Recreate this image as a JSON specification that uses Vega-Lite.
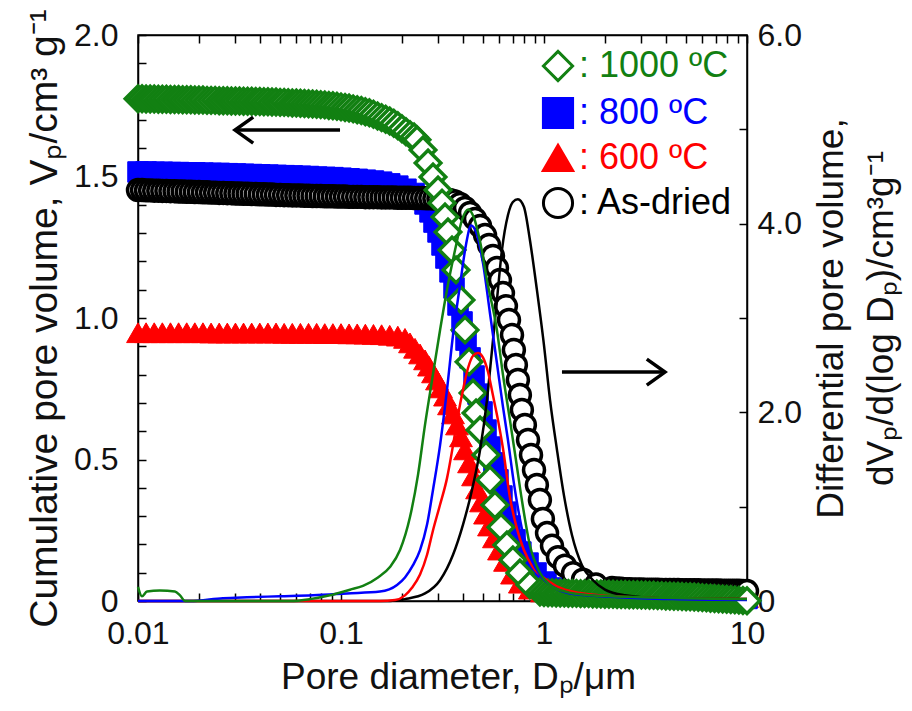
{
"$schema":"https://vega.github.io/schema/vega-lite/v6.json",
"width":609,"height":566,
"autosize":{"type":"none"},
"padding":{"left":138,"top":35,"right":165,"bottom":110},
"background":"white",
"config":{
"view":{"stroke":"black","strokeWidth":1.5},
"font":"Liberation Sans",
"axis":{"domainColor":"black","domainWidth":1.5,"tickColor":"black","tickWidth":1.5,"tickSize":-8,"labelFont":"Liberation Sans","labelFontSize":32,"labelColor":"#111111","titleFont":"Liberation Sans","titleFontSize":37,"titleFontWeight":"normal","titleColor":"#111111","grid":false,"labelOverlap":false,"labelFlush":false,"labelBound":false}
},
"datasets":{
"cum":[
{"s":"a600","d":0.01,"v":0.948},{"s":"a600","d":0.01096,"v":0.948},{"s":"a600","d":0.01202,"v":0.948},{"s":"a600","d":0.01318,"v":0.948},{"s":"a600","d":0.01445,"v":0.948},{"s":"a600","d":0.01585,"v":0.948},{"s":"a600","d":0.01738,"v":0.948},{"s":"a600","d":0.01905,"v":0.948},{"s":"a600","d":0.02089,"v":0.948},{"s":"a600","d":0.02291,"v":0.947},{"s":"a600","d":0.02512,"v":0.947},{"s":"a600","d":0.02754,"v":0.947},{"s":"a600","d":0.0302,"v":0.947},{"s":"a600","d":0.03311,"v":0.947},{"s":"a600","d":0.03631,"v":0.947},{"s":"a600","d":0.03981,"v":0.947},{"s":"a600","d":0.04365,"v":0.947},{"s":"a600","d":0.04786,"v":0.947},{"s":"a600","d":0.05248,"v":0.946},{"s":"a600","d":0.05754,"v":0.946},{"s":"a600","d":0.0631,"v":0.946},{"s":"a600","d":0.06918,"v":0.946},{"s":"a600","d":0.07586,"v":0.946},{"s":"a600","d":0.08318,"v":0.945},{"s":"a600","d":0.0912,"v":0.945},{"s":"a600","d":0.1,"v":0.945},{"s":"a600","d":0.1096,"v":0.944},{"s":"a600","d":0.1202,"v":0.944},{"s":"a600","d":0.1318,"v":0.943},{"s":"a600","d":0.1445,"v":0.942},{"s":"a600","d":0.1585,"v":0.941},{"s":"a600","d":0.1738,"v":0.939},{"s":"a600","d":0.1905,"v":0.936},{"s":"a600","d":0.2066,"v":0.928},{"s":"a600","d":0.2187,"v":0.912},{"s":"a600","d":0.2316,"v":0.893},{"s":"a600","d":0.2451,"v":0.873},{"s":"a600","d":0.2594,"v":0.852},{"s":"a600","d":0.2714,"v":0.83},{"s":"a600","d":0.284,"v":0.806},{"s":"a600","d":0.2971,"v":0.781},{"s":"a600","d":0.3109,"v":0.753},{"s":"a600","d":0.3254,"v":0.724},{"s":"a600","d":0.3404,"v":0.693},{"s":"a600","d":0.3563,"v":0.661},{"s":"a600","d":0.3727,"v":0.622},{"s":"a600","d":0.39,"v":0.58},{"s":"a600","d":0.4083,"v":0.534},{"s":"a600","d":0.4272,"v":0.488},{"s":"a600","d":0.4472,"v":0.442},{"s":"a600","d":0.468,"v":0.396},{"s":"a600","d":0.4896,"v":0.35},{"s":"a600","d":0.5122,"v":0.307},{"s":"a600","d":0.5358,"v":0.265},{"s":"a600","d":0.5668,"v":0.223},{"s":"a600","d":0.6002,"v":0.18},{"s":"a600","d":0.6425,"v":0.14},{"s":"a600","d":0.6956,"v":0.095},{"s":"a600","d":0.7606,"v":0.063},{"s":"a600","d":0.852,"v":0.042},{"s":"a600","d":0.9774,"v":0.032},{"s":"a600","d":1.096,"v":0.031},{"s":"a600","d":1.202,"v":0.031},{"s":"a600","d":1.318,"v":0.03},{"s":"a600","d":1.445,"v":0.03},{"s":"a600","d":1.585,"v":0.029},{"s":"a600","d":1.738,"v":0.029},{"s":"a600","d":1.905,"v":0.028},{"s":"a600","d":2.089,"v":0.028},{"s":"a600","d":2.291,"v":0.027},{"s":"a600","d":2.512,"v":0.027},{"s":"a600","d":2.754,"v":0.026},{"s":"a600","d":3.02,"v":0.026},{"s":"a600","d":3.311,"v":0.025},{"s":"a600","d":3.631,"v":0.025},{"s":"a600","d":3.981,"v":0.024},{"s":"a600","d":4.365,"v":0.023},{"s":"a600","d":4.786,"v":0.022},{"s":"a600","d":5.248,"v":0.021},{"s":"a600","d":5.754,"v":0.02},{"s":"a600","d":6.31,"v":0.019},{"s":"a600","d":6.918,"v":0.018},{"s":"a600","d":7.586,"v":0.016},{"s":"a600","d":8.318,"v":0.015},{"s":"a600","d":9.12,"v":0.013},{"s":"a600","d":10,"v":0.012},
{"s":"b800","d":0.01,"v":1.516},{"s":"b800","d":0.01096,"v":1.516},{"s":"b800","d":0.01202,"v":1.515},{"s":"b800","d":0.01318,"v":1.515},{"s":"b800","d":0.01445,"v":1.514},{"s":"b800","d":0.01585,"v":1.514},{"s":"b800","d":0.01738,"v":1.513},{"s":"b800","d":0.01905,"v":1.513},{"s":"b800","d":0.02089,"v":1.512},{"s":"b800","d":0.02291,"v":1.511},{"s":"b800","d":0.02512,"v":1.511},{"s":"b800","d":0.02754,"v":1.51},{"s":"b800","d":0.0302,"v":1.509},{"s":"b800","d":0.03311,"v":1.508},{"s":"b800","d":0.03631,"v":1.507},{"s":"b800","d":0.03981,"v":1.506},{"s":"b800","d":0.04365,"v":1.505},{"s":"b800","d":0.04786,"v":1.504},{"s":"b800","d":0.05248,"v":1.503},{"s":"b800","d":0.05754,"v":1.502},{"s":"b800","d":0.0631,"v":1.501},{"s":"b800","d":0.06918,"v":1.5},{"s":"b800","d":0.07586,"v":1.498},{"s":"b800","d":0.08318,"v":1.497},{"s":"b800","d":0.0912,"v":1.496},{"s":"b800","d":0.1,"v":1.494},{"s":"b800","d":0.1096,"v":1.492},{"s":"b800","d":0.1202,"v":1.49},{"s":"b800","d":0.1318,"v":1.487},{"s":"b800","d":0.1445,"v":1.484},{"s":"b800","d":0.1585,"v":1.48},{"s":"b800","d":0.1738,"v":1.474},{"s":"b800","d":0.1905,"v":1.466},{"s":"b800","d":0.2089,"v":1.455},{"s":"b800","d":0.2291,"v":1.44},{"s":"b800","d":0.2451,"v":1.428},{"s":"b800","d":0.2594,"v":1.403},{"s":"b800","d":0.2745,"v":1.375},{"s":"b800","d":0.2872,"v":1.339},{"s":"b800","d":0.3006,"v":1.304},{"s":"b800","d":0.3145,"v":1.258},{"s":"b800","d":0.3289,"v":1.212},{"s":"b800","d":0.3443,"v":1.163},{"s":"b800","d":0.3604,"v":1.106},{"s":"b800","d":0.3771,"v":1.046},{"s":"b800","d":0.3946,"v":0.986},{"s":"b800","d":0.413,"v":0.922},{"s":"b800","d":0.4322,"v":0.859},{"s":"b800","d":0.4523,"v":0.795},{"s":"b800","d":0.4733,"v":0.731},{"s":"b800","d":0.4951,"v":0.668},{"s":"b800","d":0.518,"v":0.604},{"s":"b800","d":0.5418,"v":0.544},{"s":"b800","d":0.5668,"v":0.488},{"s":"b800","d":0.5931,"v":0.428},{"s":"b800","d":0.6206,"v":0.371},{"s":"b800","d":0.6492,"v":0.314},{"s":"b800","d":0.6793,"v":0.265},{"s":"b800","d":0.7197,"v":0.216},{"s":"b800","d":0.7693,"v":0.173},{"s":"b800","d":0.8343,"v":0.134},{"s":"b800","d":0.9133,"v":0.099},{"s":"b800","d":1.023,"v":0.067},{"s":"b800","d":1.172,"v":0.046},{"s":"b800","d":1.373,"v":0.032},{"s":"b800","d":1.514,"v":0.031},{"s":"b800","d":1.66,"v":0.03},{"s":"b800","d":1.82,"v":0.029},{"s":"b800","d":1.995,"v":0.029},{"s":"b800","d":2.188,"v":0.028},{"s":"b800","d":2.399,"v":0.027},{"s":"b800","d":2.63,"v":0.027},{"s":"b800","d":2.884,"v":0.026},{"s":"b800","d":3.162,"v":0.025},{"s":"b800","d":3.467,"v":0.025},{"s":"b800","d":3.802,"v":0.024},{"s":"b800","d":4.169,"v":0.023},{"s":"b800","d":4.571,"v":0.022},{"s":"b800","d":5.012,"v":0.021},{"s":"b800","d":5.495,"v":0.02},{"s":"b800","d":6.026,"v":0.019},{"s":"b800","d":6.607,"v":0.018},{"s":"b800","d":7.244,"v":0.016},{"s":"b800","d":7.943,"v":0.014},{"s":"b800","d":8.71,"v":0.012},{"s":"b800","d":9.55,"v":0.01},{"s":"b800","d":10,"v":0.009},
{"s":"cdry","d":0.01,"v":1.452},{"s":"cdry","d":0.01047,"v":1.452},{"s":"cdry","d":0.01096,"v":1.451},{"s":"cdry","d":0.01148,"v":1.451},{"s":"cdry","d":0.01202,"v":1.45},{"s":"cdry","d":0.01259,"v":1.45},{"s":"cdry","d":0.01318,"v":1.449},{"s":"cdry","d":0.0138,"v":1.449},{"s":"cdry","d":0.01445,"v":1.448},{"s":"cdry","d":0.01514,"v":1.448},{"s":"cdry","d":0.01585,"v":1.447},{"s":"cdry","d":0.0166,"v":1.447},{"s":"cdry","d":0.01738,"v":1.446},{"s":"cdry","d":0.0182,"v":1.446},{"s":"cdry","d":0.01905,"v":1.445},{"s":"cdry","d":0.01995,"v":1.445},{"s":"cdry","d":0.02089,"v":1.444},{"s":"cdry","d":0.02188,"v":1.444},{"s":"cdry","d":0.02291,"v":1.443},{"s":"cdry","d":0.02399,"v":1.443},{"s":"cdry","d":0.02512,"v":1.442},{"s":"cdry","d":0.0263,"v":1.442},{"s":"cdry","d":0.02754,"v":1.441},{"s":"cdry","d":0.02884,"v":1.441},{"s":"cdry","d":0.0302,"v":1.44},{"s":"cdry","d":0.03162,"v":1.44},{"s":"cdry","d":0.03311,"v":1.439},{"s":"cdry","d":0.03467,"v":1.439},{"s":"cdry","d":0.03631,"v":1.438},{"s":"cdry","d":0.03802,"v":1.438},{"s":"cdry","d":0.03981,"v":1.437},{"s":"cdry","d":0.04169,"v":1.437},{"s":"cdry","d":0.04365,"v":1.436},{"s":"cdry","d":0.04571,"v":1.436},{"s":"cdry","d":0.04786,"v":1.435},{"s":"cdry","d":0.05012,"v":1.435},{"s":"cdry","d":0.05248,"v":1.434},{"s":"cdry","d":0.05495,"v":1.434},{"s":"cdry","d":0.05754,"v":1.433},{"s":"cdry","d":0.06026,"v":1.433},{"s":"cdry","d":0.0631,"v":1.433},{"s":"cdry","d":0.06607,"v":1.432},{"s":"cdry","d":0.06918,"v":1.432},{"s":"cdry","d":0.07244,"v":1.431},{"s":"cdry","d":0.07586,"v":1.431},{"s":"cdry","d":0.07943,"v":1.431},{"s":"cdry","d":0.08318,"v":1.43},{"s":"cdry","d":0.0871,"v":1.43},{"s":"cdry","d":0.0912,"v":1.43},{"s":"cdry","d":0.0955,"v":1.429},{"s":"cdry","d":0.1,"v":1.429},{"s":"cdry","d":0.1047,"v":1.429},{"s":"cdry","d":0.1096,"v":1.428},{"s":"cdry","d":0.1148,"v":1.428},{"s":"cdry","d":0.1202,"v":1.428},{"s":"cdry","d":0.1259,"v":1.428},{"s":"cdry","d":0.1318,"v":1.427},{"s":"cdry","d":0.138,"v":1.427},{"s":"cdry","d":0.1445,"v":1.427},{"s":"cdry","d":0.1514,"v":1.427},{"s":"cdry","d":0.1585,"v":1.426},{"s":"cdry","d":0.166,"v":1.426},{"s":"cdry","d":0.1738,"v":1.426},{"s":"cdry","d":0.182,"v":1.426},{"s":"cdry","d":0.1905,"v":1.425},{"s":"cdry","d":0.1995,"v":1.425},{"s":"cdry","d":0.2089,"v":1.425},{"s":"cdry","d":0.2188,"v":1.425},{"s":"cdry","d":0.2291,"v":1.424},{"s":"cdry","d":0.2399,"v":1.424},{"s":"cdry","d":0.2512,"v":1.424},{"s":"cdry","d":0.263,"v":1.423},{"s":"cdry","d":0.2754,"v":1.423},{"s":"cdry","d":0.2884,"v":1.422},{"s":"cdry","d":0.302,"v":1.422},{"s":"cdry","d":0.3162,"v":1.421},{"s":"cdry","d":0.3311,"v":1.419},{"s":"cdry","d":0.3467,"v":1.416},{"s":"cdry","d":0.3646,"v":1.412},{"s":"cdry","d":0.3858,"v":1.403},{"s":"cdry","d":0.4083,"v":1.389},{"s":"cdry","d":0.4322,"v":1.371},{"s":"cdry","d":0.4572,"v":1.35},{"s":"cdry","d":0.4842,"v":1.325},{"s":"cdry","d":0.5123,"v":1.293},{"s":"cdry","d":0.536,"v":1.258},{"s":"cdry","d":0.5604,"v":1.219},{"s":"cdry","d":0.5864,"v":1.177},{"s":"cdry","d":0.6067,"v":1.134},{"s":"cdry","d":0.6277,"v":1.088},{"s":"cdry","d":0.6492,"v":1.042},{"s":"cdry","d":0.6723,"v":0.993},{"s":"cdry","d":0.6956,"v":0.94},{"s":"cdry","d":0.7106,"v":0.887},{"s":"cdry","d":0.7269,"v":0.834},{"s":"cdry","d":0.7436,"v":0.781},{"s":"cdry","d":0.7606,"v":0.728},{"s":"cdry","d":0.7781,"v":0.675},{"s":"cdry","d":0.8051,"v":0.622},{"s":"cdry","d":0.8343,"v":0.569},{"s":"cdry","d":0.863,"v":0.516},{"s":"cdry","d":0.8929,"v":0.463},{"s":"cdry","d":0.9224,"v":0.41},{"s":"cdry","d":0.9545,"v":0.357},{"s":"cdry","d":0.9877,"v":0.29},{"s":"cdry","d":1.035,"v":0.24},{"s":"cdry","d":1.095,"v":0.195},{"s":"cdry","d":1.172,"v":0.155},{"s":"cdry","d":1.268,"v":0.125},{"s":"cdry","d":1.39,"v":0.098},{"s":"cdry","d":1.556,"v":0.075},{"s":"cdry","d":1.804,"v":0.058},{"s":"cdry","d":2.163,"v":0.046},{"s":"cdry","d":2.291,"v":0.044},{"s":"cdry","d":2.399,"v":0.043},{"s":"cdry","d":2.512,"v":0.042},{"s":"cdry","d":2.63,"v":0.042},{"s":"cdry","d":2.754,"v":0.041},{"s":"cdry","d":2.884,"v":0.041},{"s":"cdry","d":3.02,"v":0.041},{"s":"cdry","d":3.162,"v":0.04},{"s":"cdry","d":3.311,"v":0.04},{"s":"cdry","d":3.467,"v":0.04},{"s":"cdry","d":3.631,"v":0.04},{"s":"cdry","d":3.802,"v":0.039},{"s":"cdry","d":3.981,"v":0.039},{"s":"cdry","d":4.169,"v":0.039},{"s":"cdry","d":4.365,"v":0.039},{"s":"cdry","d":4.571,"v":0.039},{"s":"cdry","d":4.786,"v":0.038},{"s":"cdry","d":5.012,"v":0.038},{"s":"cdry","d":5.248,"v":0.038},{"s":"cdry","d":5.495,"v":0.038},{"s":"cdry","d":5.754,"v":0.038},{"s":"cdry","d":6.026,"v":0.037},{"s":"cdry","d":6.31,"v":0.037},{"s":"cdry","d":6.607,"v":0.037},{"s":"cdry","d":6.918,"v":0.037},{"s":"cdry","d":7.244,"v":0.037},{"s":"cdry","d":7.586,"v":0.036},{"s":"cdry","d":7.943,"v":0.036},{"s":"cdry","d":8.318,"v":0.036},{"s":"cdry","d":8.71,"v":0.036},{"s":"cdry","d":9.12,"v":0.036},{"s":"cdry","d":9.55,"v":0.035},{"s":"cdry","d":10,"v":0.035},
{"s":"d1000","d":0.01,"v":1.775},{"s":"d1000","d":0.01047,"v":1.775},{"s":"d1000","d":0.01096,"v":1.774},{"s":"d1000","d":0.01148,"v":1.774},{"s":"d1000","d":0.01202,"v":1.774},{"s":"d1000","d":0.01259,"v":1.773},{"s":"d1000","d":0.01318,"v":1.773},{"s":"d1000","d":0.0138,"v":1.773},{"s":"d1000","d":0.01445,"v":1.772},{"s":"d1000","d":0.01514,"v":1.772},{"s":"d1000","d":0.01585,"v":1.772},{"s":"d1000","d":0.0166,"v":1.771},{"s":"d1000","d":0.01738,"v":1.771},{"s":"d1000","d":0.0182,"v":1.771},{"s":"d1000","d":0.01905,"v":1.77},{"s":"d1000","d":0.01995,"v":1.77},{"s":"d1000","d":0.02089,"v":1.77},{"s":"d1000","d":0.02188,"v":1.769},{"s":"d1000","d":0.02291,"v":1.769},{"s":"d1000","d":0.02399,"v":1.769},{"s":"d1000","d":0.02512,"v":1.768},{"s":"d1000","d":0.0263,"v":1.768},{"s":"d1000","d":0.02754,"v":1.768},{"s":"d1000","d":0.02884,"v":1.767},{"s":"d1000","d":0.0302,"v":1.767},{"s":"d1000","d":0.03162,"v":1.767},{"s":"d1000","d":0.03311,"v":1.766},{"s":"d1000","d":0.03467,"v":1.766},{"s":"d1000","d":0.03631,"v":1.766},{"s":"d1000","d":0.03802,"v":1.765},{"s":"d1000","d":0.03981,"v":1.765},{"s":"d1000","d":0.04169,"v":1.764},{"s":"d1000","d":0.04365,"v":1.764},{"s":"d1000","d":0.04571,"v":1.763},{"s":"d1000","d":0.04786,"v":1.763},{"s":"d1000","d":0.05012,"v":1.762},{"s":"d1000","d":0.05248,"v":1.762},{"s":"d1000","d":0.05495,"v":1.761},{"s":"d1000","d":0.05754,"v":1.76},{"s":"d1000","d":0.06026,"v":1.76},{"s":"d1000","d":0.0631,"v":1.759},{"s":"d1000","d":0.06607,"v":1.758},{"s":"d1000","d":0.06918,"v":1.757},{"s":"d1000","d":0.07244,"v":1.756},{"s":"d1000","d":0.07586,"v":1.755},{"s":"d1000","d":0.07943,"v":1.754},{"s":"d1000","d":0.08318,"v":1.753},{"s":"d1000","d":0.0871,"v":1.751},{"s":"d1000","d":0.0912,"v":1.75},{"s":"d1000","d":0.0955,"v":1.748},{"s":"d1000","d":0.1,"v":1.746},{"s":"d1000","d":0.1047,"v":1.744},{"s":"d1000","d":0.1096,"v":1.742},{"s":"d1000","d":0.1148,"v":1.739},{"s":"d1000","d":0.1202,"v":1.736},{"s":"d1000","d":0.1259,"v":1.733},{"s":"d1000","d":0.1318,"v":1.729},{"s":"d1000","d":0.138,"v":1.725},{"s":"d1000","d":0.1445,"v":1.72},{"s":"d1000","d":0.1514,"v":1.714},{"s":"d1000","d":0.1585,"v":1.708},{"s":"d1000","d":0.166,"v":1.702},{"s":"d1000","d":0.1738,"v":1.696},{"s":"d1000","d":0.182,"v":1.688},{"s":"d1000","d":0.1905,"v":1.679},{"s":"d1000","d":0.1995,"v":1.669},{"s":"d1000","d":0.2089,"v":1.658},{"s":"d1000","d":0.2188,"v":1.648},{"s":"d1000","d":0.2291,"v":1.64},{"s":"d1000","d":0.2368,"v":1.63},{"s":"d1000","d":0.2535,"v":1.594},{"s":"d1000","d":0.2685,"v":1.548},{"s":"d1000","d":0.284,"v":1.498},{"s":"d1000","d":0.3006,"v":1.452},{"s":"d1000","d":0.3145,"v":1.406},{"s":"d1000","d":0.3254,"v":1.357},{"s":"d1000","d":0.3365,"v":1.304},{"s":"d1000","d":0.3523,"v":1.24},{"s":"d1000","d":0.3687,"v":1.17},{"s":"d1000","d":0.3901,"v":1.064},{"s":"d1000","d":0.4083,"v":0.958},{"s":"d1000","d":0.4272,"v":0.845},{"s":"d1000","d":0.4472,"v":0.735},{"s":"d1000","d":0.4627,"v":0.664},{"s":"d1000","d":0.4842,"v":0.604},{"s":"d1000","d":0.518,"v":0.516},{"s":"d1000","d":0.5418,"v":0.428},{"s":"d1000","d":0.5733,"v":0.339},{"s":"d1000","d":0.614,"v":0.261},{"s":"d1000","d":0.6566,"v":0.198},{"s":"d1000","d":0.7026,"v":0.145},{"s":"d1000","d":0.7606,"v":0.099},{"s":"d1000","d":0.852,"v":0.057},{"s":"d1000","d":0.9545,"v":0.032},{"s":"d1000","d":1,"v":0.03},{"s":"d1000","d":1.047,"v":0.029},{"s":"d1000","d":1.096,"v":0.029},{"s":"d1000","d":1.148,"v":0.028},{"s":"d1000","d":1.202,"v":0.028},{"s":"d1000","d":1.259,"v":0.028},{"s":"d1000","d":1.318,"v":0.027},{"s":"d1000","d":1.38,"v":0.027},{"s":"d1000","d":1.445,"v":0.027},{"s":"d1000","d":1.514,"v":0.026},{"s":"d1000","d":1.585,"v":0.026},{"s":"d1000","d":1.66,"v":0.026},{"s":"d1000","d":1.738,"v":0.025},{"s":"d1000","d":1.82,"v":0.025},{"s":"d1000","d":1.905,"v":0.025},{"s":"d1000","d":1.995,"v":0.024},{"s":"d1000","d":2.089,"v":0.024},{"s":"d1000","d":2.188,"v":0.024},{"s":"d1000","d":2.291,"v":0.023},{"s":"d1000","d":2.399,"v":0.023},{"s":"d1000","d":2.512,"v":0.023},{"s":"d1000","d":2.63,"v":0.022},{"s":"d1000","d":2.754,"v":0.022},{"s":"d1000","d":2.884,"v":0.022},{"s":"d1000","d":3.02,"v":0.021},{"s":"d1000","d":3.162,"v":0.021},{"s":"d1000","d":3.311,"v":0.02},{"s":"d1000","d":3.467,"v":0.02},{"s":"d1000","d":3.631,"v":0.019},{"s":"d1000","d":3.802,"v":0.019},{"s":"d1000","d":3.981,"v":0.018},{"s":"d1000","d":4.169,"v":0.018},{"s":"d1000","d":4.365,"v":0.017},{"s":"d1000","d":4.571,"v":0.017},{"s":"d1000","d":4.786,"v":0.016},{"s":"d1000","d":5.012,"v":0.015},{"s":"d1000","d":5.248,"v":0.015},{"s":"d1000","d":5.495,"v":0.014},{"s":"d1000","d":5.754,"v":0.013},{"s":"d1000","d":6.026,"v":0.012},{"s":"d1000","d":6.31,"v":0.011},{"s":"d1000","d":6.607,"v":0.01},{"s":"d1000","d":6.918,"v":0.009},{"s":"d1000","d":7.244,"v":0.008},{"s":"d1000","d":7.586,"v":0.007},{"s":"d1000","d":7.943,"v":0.006},{"s":"d1000","d":8.318,"v":0.005},{"s":"d1000","d":8.71,"v":0.004},{"s":"d1000","d":9.12,"v":0.003},{"s":"d1000","d":9.55,"v":0.002},{"s":"d1000","d":10,"v":0.001}
],
"dif":[
{"s":"cdry","d":0.01,"y":0},{"s":"cdry","d":0.1743,"y":0},{"s":"cdry","d":0.2066,"y":0.02},{"s":"cdry","d":0.2594,"y":0.08},{"s":"cdry","d":0.3075,"y":0.22},{"s":"cdry","d":0.3563,"y":0.49},{"s":"cdry","d":0.3991,"y":0.81},{"s":"cdry","d":0.4421,"y":1.18},{"s":"cdry","d":0.4842,"y":1.6},{"s":"cdry","d":0.5237,"y":2.13},{"s":"cdry","d":0.5544,"y":2.66},{"s":"cdry","d":0.5864,"y":3.19},{"s":"cdry","d":0.6206,"y":3.72},{"s":"cdry","d":0.6641,"y":4.09},{"s":"cdry","d":0.7026,"y":4.23},{"s":"cdry","d":0.7436,"y":4.26},{"s":"cdry","d":0.796,"y":4.18},{"s":"cdry","d":0.852,"y":3.83},{"s":"cdry","d":0.9224,"y":3.3},{"s":"cdry","d":1,"y":2.71},{"s":"cdry","d":1.071,"y":2.13},{"s":"cdry","d":1.159,"y":1.6},{"s":"cdry","d":1.254,"y":1.12},{"s":"cdry","d":1.373,"y":0.7},{"s":"cdry","d":1.538,"y":0.38},{"s":"cdry","d":1.743,"y":0.22},{"s":"cdry","d":1.997,"y":0.12},{"s":"cdry","d":2.506,"y":0.06},{"s":"cdry","d":3.725,"y":0.03},{"s":"cdry","d":10,"y":0.02},
{"s":"a600","d":0.01,"y":0},{"s":"a600","d":0.1556,"y":0},{"s":"a600","d":0.1846,"y":0.01},{"s":"a600","d":0.2066,"y":0.06},{"s":"a600","d":0.2237,"y":0.14},{"s":"a600","d":0.2451,"y":0.28},{"s":"a600","d":0.2654,"y":0.49},{"s":"a600","d":0.284,"y":0.75},{"s":"a600","d":0.3075,"y":1.02},{"s":"a600","d":0.3327,"y":1.3},{"s":"a600","d":0.3563,"y":1.65},{"s":"a600","d":0.3771,"y":1.97},{"s":"a600","d":0.3991,"y":2.24},{"s":"a600","d":0.4225,"y":2.47},{"s":"a600","d":0.4472,"y":2.6},{"s":"a600","d":0.4733,"y":2.63},{"s":"a600","d":0.5008,"y":2.58},{"s":"a600","d":0.5297,"y":2.43},{"s":"a600","d":0.5604,"y":2.18},{"s":"a600","d":0.5931,"y":1.92},{"s":"a600","d":0.6277,"y":1.62},{"s":"a600","d":0.6793,"y":1.1},{"s":"a600","d":0.7352,"y":0.77},{"s":"a600","d":0.796,"y":0.54},{"s":"a600","d":0.8815,"y":0.36},{"s":"a600","d":1.035,"y":0.22},{"s":"a600","d":1.268,"y":0.12},{"s":"a600","d":1.887,"y":0.06},{"s":"a600","d":3.725,"y":0.03},{"s":"a600","d":10,"y":0.02},
{"s":"b800","d":0.01,"y":0},{"s":"b800","d":0.018,"y":0},{"s":"b800","d":0.0262,"y":0.03},{"s":"b800","d":0.0344,"y":0.04},{"s":"b800","d":0.0501,"y":0.05},{"s":"b800","d":0.0728,"y":0.06},{"s":"b800","d":0.1071,"y":0.08},{"s":"b800","d":0.1556,"y":0.1},{"s":"b800","d":0.1888,"y":0.17},{"s":"b800","d":0.2066,"y":0.25},{"s":"b800","d":0.2263,"y":0.38},{"s":"b800","d":0.2451,"y":0.54},{"s":"b800","d":0.2654,"y":0.81},{"s":"b800","d":0.284,"y":1.18},{"s":"b800","d":0.3075,"y":1.65},{"s":"b800","d":0.3327,"y":2.24},{"s":"b800","d":0.3563,"y":2.82},{"s":"b800","d":0.3858,"y":3.35},{"s":"b800","d":0.413,"y":3.78},{"s":"b800","d":0.4371,"y":3.98},{"s":"b800","d":0.4627,"y":3.91},{"s":"b800","d":0.5008,"y":3.58},{"s":"b800","d":0.5418,"y":3.05},{"s":"b800","d":0.5864,"y":2.52},{"s":"b800","d":0.6277,"y":2.06},{"s":"b800","d":0.6641,"y":1.71},{"s":"b800","d":0.7106,"y":1.25},{"s":"b800","d":0.787,"y":0.72},{"s":"b800","d":0.8715,"y":0.43},{"s":"b800","d":0.9545,"y":0.28},{"s":"b800","d":1.107,"y":0.15},{"s":"b800","d":1.343,"y":0.08},{"s":"b800","d":2.366,"y":0.04},{"s":"b800","d":4.318,"y":0.02},{"s":"b800","d":10,"y":0.01},
{"s":"d1000","d":0.01,"y":0.15},{"s":"d1000","d":0.01046,"y":0.05},{"s":"d1000","d":0.01107,"y":0.1},{"s":"d1000","d":0.01282,"y":0.11},{"s":"d1000","d":0.0152,"y":0.1},{"s":"d1000","d":0.0161,"y":0.06},{"s":"d1000","d":0.01706,"y":0},{"s":"d1000","d":0.0561,"y":0},{"s":"d1000","d":0.07031,"y":0.02},{"s":"d1000","d":0.08827,"y":0.06},{"s":"d1000","d":0.1107,"y":0.12},{"s":"d1000","d":0.1283,"y":0.16},{"s":"d1000","d":0.1521,"y":0.25},{"s":"d1000","d":0.1743,"y":0.36},{"s":"d1000","d":0.1953,"y":0.54},{"s":"d1000","d":0.2187,"y":0.89},{"s":"d1000","d":0.2396,"y":1.34},{"s":"d1000","d":0.2594,"y":1.87},{"s":"d1000","d":0.2808,"y":2.34},{"s":"d1000","d":0.3075,"y":2.87},{"s":"d1000","d":0.3327,"y":3.3},{"s":"d1000","d":0.3646,"y":3.72},{"s":"d1000","d":0.3946,"y":4.04},{"s":"d1000","d":0.4225,"y":4.15},{"s":"d1000","d":0.4523,"y":4.06},{"s":"d1000","d":0.4842,"y":3.81},{"s":"d1000","d":0.5237,"y":3.4},{"s":"d1000","d":0.5864,"y":2.87},{"s":"d1000","d":0.6277,"y":2.4},{"s":"d1000","d":0.6793,"y":1.92},{"s":"d1000","d":0.7269,"y":1.5},{"s":"d1000","d":0.7781,"y":1.07},{"s":"d1000","d":0.852,"y":0.59},{"s":"d1000","d":0.9545,"y":0.3},{"s":"d1000","d":1.071,"y":0.17},{"s":"d1000","d":1.268,"y":0.1},{"s":"d1000","d":1.685,"y":0.06},{"s":"d1000","d":2.971,"y":0.04},{"s":"d1000","d":10,"y":0.02}
],
"arrow":[
{"dir":"left","x1":0.03005,"x2":0.0989,"y":1.664},
{"dir":"right","x1":1.226,"x2":3.945,"y":0.809}
]
},
"layer":[
{
"data":{"name":"cum"},
"mark":{"type":"point","opacity":1},
"encoding":{
"x":{"field":"d","type":"quantitative","scale":{"type":"log","domain":[0.01,10],"nice":false},
"axis":{"orient":"bottom","values":[0.01,0.02,0.03,0.04,0.05,0.06,0.07,0.08,0.09,0.1,0.2,0.3,0.4,0.5,0.6,0.7,0.8,0.9,1,2,3,4,5,6,7,8,9,10],
"labelExpr":"datum.value == 0.01 ? '0.01' : datum.value == 0.1 ? '0.1' : datum.value == 1 ? '1' : datum.value == 10 ? '10' : ''",
"labelPadding":25,"title":"Pore diameter, Dₚ/μm","titlePadding":10,"titleX":320,"titleAlign":"center"}},
"y":{"field":"v","type":"quantitative","scale":{"domain":[0,2],"nice":false,"zero":false},
"axis":{"orient":"left","values":[0,0.1,0.2,0.3,0.4,0.5,0.6,0.7,0.8,0.9,1,1.1,1.2,1.3,1.4,1.5,1.6,1.7,1.8,1.9,2],
"labelExpr":"datum.value == 0 ? '0' : (datum.value == 0.5 || datum.value == 1 || datum.value == 1.5 || datum.value == 2) ? format(datum.value, '.1f') : ''",
"labelPadding":28,"title":"Cumulative pore volume, Vₚ/cm³ g⁻¹","titleFontSize":39,"titlePadding":9}},
"shape":{"field":"s","type":"nominal","scale":{"domain":["d1000","b800","a600","cdry"],"range":["diamond","square","triangle-up","circle"]},
"legend":{"title":null,"orient":"top-right","offset":13,"padding":0,
"labelExpr":"datum.label == 'cdry' ? ': As-dried' : ': ' + substring(datum.label, 1) + ' ºC'",
"labelFont":"Liberation Sans","labelFontSize":36,"labelLimit":400,"symbolSize":850,"symbolStrokeWidth":3,"rowPadding":5,"labelOffset":3,
"labelColor":{"expr":"datum.value == 'd1000' ? '#128012' : datum.value == 'b800' ? '#0000ff' : datum.value == 'a600' ? '#ff0000' : '#000000'"},
"encode":{"labels":{"fill":{"condition":[{"test":"datum.value == 'd1000'","value":"#128012"},{"test":"datum.value == 'b800'","value":"#0000ff"},{"test":"datum.value == 'a600'","value":"#ff0000"}],"value":"#000000"}}}}},
"fill":{"field":"s","type":"nominal","scale":{"domain":["d1000","b800","a600","cdry"],"range":["#ffffff","#0000ff","#ff0000","#ffffff"]},
"legend":{"title":null,"orient":"top-right","offset":13,"padding":0,
"labelExpr":"datum.label == 'cdry' ? ': As-dried' : ': ' + substring(datum.label, 1) + ' ºC'",
"labelFont":"Liberation Sans","labelFontSize":36,"labelLimit":400,"symbolSize":850,"symbolStrokeWidth":3,"rowPadding":5,"labelOffset":3,
"labelColor":{"expr":"datum.value == 'd1000' ? '#128012' : datum.value == 'b800' ? '#0000ff' : datum.value == 'a600' ? '#ff0000' : '#000000'"},
"encode":{"labels":{"fill":{"condition":[{"test":"datum.value == 'd1000'","value":"#128012"},{"test":"datum.value == 'b800'","value":"#0000ff"},{"test":"datum.value == 'a600'","value":"#ff0000"}],"value":"#000000"}}}}},
"stroke":{"field":"s","type":"nominal","scale":{"domain":["d1000","b800","a600","cdry"],"range":["#128012","#0000ff","#ff0000","#000000"]},
"legend":{"title":null,"orient":"top-right","offset":13,"padding":0,
"labelExpr":"datum.label == 'cdry' ? ': As-dried' : ': ' + substring(datum.label, 1) + ' ºC'",
"labelFont":"Liberation Sans","labelFontSize":36,"labelLimit":400,"symbolSize":850,"symbolStrokeWidth":3,"rowPadding":5,"labelOffset":3,
"labelColor":{"expr":"datum.value == 'd1000' ? '#128012' : datum.value == 'b800' ? '#0000ff' : datum.value == 'a600' ? '#ff0000' : '#000000'"},
"encode":{"labels":{"fill":{"condition":[{"test":"datum.value == 'd1000'","value":"#128012"},{"test":"datum.value == 'b800'","value":"#0000ff"},{"test":"datum.value == 'a600'","value":"#ff0000"}],"value":"#000000"}}}}},
"size":{"field":"s","type":"nominal","scale":{"type":"ordinal","domain":["cdry","a600","b800","d1000"],"range":[440,520,420,650]},"legend":null},
"strokeWidth":{"field":"s","type":"nominal","scale":{"type":"ordinal","domain":["cdry","a600","b800","d1000"],"range":[3.5,1,1,3.5]},"legend":null},
"order":[{"field":"s","type":"ordinal","sort":"ascending"},{"field":"d","type":"quantitative","sort":"descending"}]
}
},
{
"data":{"name":"dif"},
"mark":{"type":"line","strokeWidth":2.5,"interpolate":"monotone"},
"encoding":{
"x":{"field":"d","type":"quantitative","scale":{"type":"log","domain":[0.01,10],"nice":false},
"axis":{"orient":"top","values":[0.01,0.02,0.03,0.04,0.05,0.06,0.07,0.08,0.09,0.1,0.2,0.3,0.4,0.5,0.6,0.7,0.8,0.9,1,2,3,4,5,6,7,8,9,10],"labels":false,"title":null}},
"y":{"field":"y","type":"quantitative","scale":{"domain":[0,6],"nice":false,"zero":false},
"axis":{"orient":"right","values":[0,1,2,3,4,5,6],
"labelExpr":"datum.value == 0 ? '0' : (datum.value == 2 || datum.value == 4 || datum.value == 6) ? format(datum.value, '.1f') : ''",
"labelPadding":18,"title":["Differential pore volume,","dVₚ/d(log Dₚ)/cm³g⁻¹"],"titleAngle":270,"titleBaseline":"top","titleAlign":"center","titleX":66,"titleY":283,"titleLineHeight":50}},
"color":{"field":"s","type":"nominal","scale":{"domain":["d1000","b800","a600","cdry"],"range":["#128012","#0000ff","#ff0000","#000000"]},"legend":null}
}
},
{
"data":{"name":"arrow"},
"mark":{"type":"rule","strokeWidth":3.5,"color":"#000000"},
"encoding":{
"x":{"field":"x1","type":"quantitative","scale":{"type":"log","domain":[0.01,10],"nice":false},"axis":null},
"x2":{"field":"x2"},
"y":{"field":"y","type":"quantitative","scale":{"domain":[0,2],"nice":false,"zero":false},"axis":null}
}
},
{
"data":{"name":"arrow"},
"transform":[{"filter":"datum.dir == 'left'"}],
"mark":{"type":"point","shape":"M1.4,-1L0,0L1.4,1","size":676,"filled":false,"stroke":"#000000","strokeWidth":3.5,"opacity":1},
"encoding":{
"x":{"field":"x1","type":"quantitative","scale":{"type":"log","domain":[0.01,10],"nice":false},"axis":null},
"y":{"field":"y","type":"quantitative","scale":{"domain":[0,2],"nice":false,"zero":false},"axis":null}
}
},
{
"data":{"name":"arrow"},
"transform":[{"filter":"datum.dir == 'right'"}],
"mark":{"type":"point","shape":"M-1.4,-1L0,0L-1.4,1","size":676,"filled":false,"stroke":"#000000","strokeWidth":3.5,"opacity":1},
"encoding":{
"x":{"field":"x2","type":"quantitative","scale":{"type":"log","domain":[0.01,10],"nice":false},"axis":null},
"y":{"field":"y","type":"quantitative","scale":{"domain":[0,2],"nice":false,"zero":false},"axis":null}
}
}
],
"resolve":{"scale":{"y":"independent"},"axis":{"x":"independent","y":"independent"}}
}
